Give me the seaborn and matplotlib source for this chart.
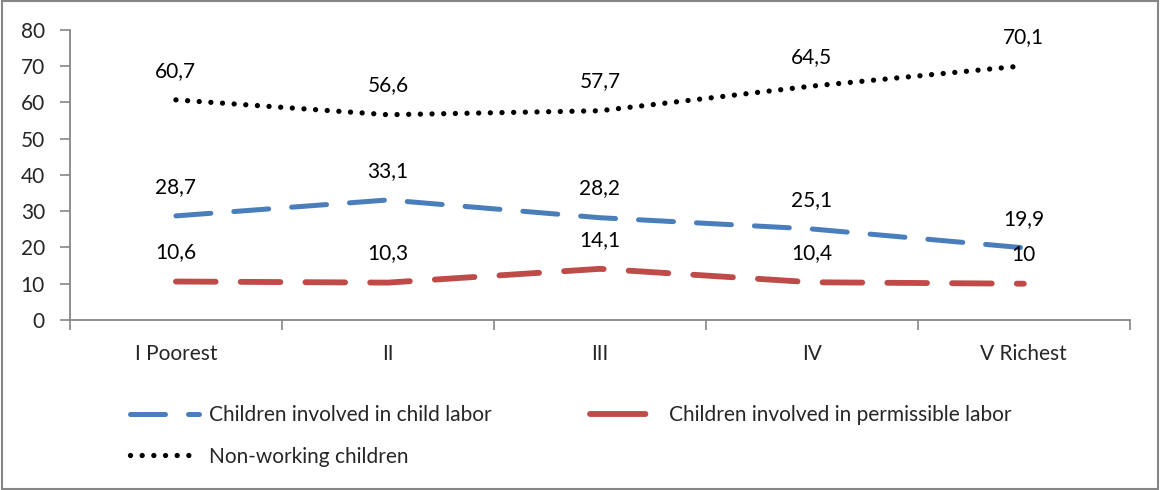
import pandas as pd
import seaborn as sns
import matplotlib.pyplot as plt
from matplotlib.patches import Rectangle

quintiles = ["I Poorest", "II", "III", "IV", "V Richest"]
child_labor = [28.7, 33.1, 28.2, 25.1, 19.9]
permissible_labor = [10.6, 10.3, 14.1, 10.4, 10.0]
non_working = [60.7, 56.6, 57.7, 64.5, 70.1]

series_names = ["Children involved in child labor",
                "Children involved in permissible labor",
                "Non-working children"]
series_values = [child_labor, permissible_labor, non_working]

rows = []
for name, vals in zip(series_names, series_values):
    for i, v in enumerate(vals):
        rows.append({"pos": i, "value": v, "series": name})
df = pd.DataFrame(rows)

sns.set_style("white")
plt.rcParams["font.family"] = ["Lato", "DejaVu Sans"]
plt.rcParams["lines.dash_capstyle"] = "round"
plt.rcParams["lines.solid_capstyle"] = "round"

palette = {series_names[0]: "#4A7EBB",
           series_names[1]: "#BE4B48",
           series_names[2]: "#000000"}
widths = {series_names[0]: 3.6, series_names[1]: 4.2, series_names[2]: 3.8}
dashes = {series_names[0]: (7, 4.6),
          series_names[1]: (6.8, 4.3),
          series_names[2]: (0.01, 2.2)}

fig = plt.figure(figsize=(11.6, 4.9), dpi=100)
ax = fig.add_axes([0.0603, 0.347, 0.9137, 0.592])

lines = {}
for name in series_names:
    sub = df[df["series"] == name]
    sns.lineplot(data=sub, x="pos", y="value", color=palette[name],
                 linewidth=widths[name], dashes=False, ax=ax, label=name,
                 linestyle=(0, dashes[name]))
    lines[name] = ax.get_lines()[-1]

for name in series_names:
    sub = df[df["series"] == name]
    for x, y in zip(sub["pos"], sub["value"]):
        txt = f"{y:g}".replace(".", ",")
        ax.annotate(txt, (x, y), xytext=(0, 21), textcoords="offset points",
                    ha="center", va="center", fontsize=15, color="black")

ax.set_xlim(-0.5, 4.5)
ax.set_ylim(0, 80)
ax.set_yticks(range(0, 81, 10))
ax.set_xticks([i + 0.5 for i in range(-1, 5)], minor=False)
ax.set_xticklabels([])
ax.set_xticks(range(5), minor=True)
ax.set_xticklabels(quintiles, minor=True)
ax.tick_params(axis="x", which="major", length=7, width=1.2, color="#868686",
               direction="out", bottom=True)
ax.tick_params(axis="x", which="minor", length=0, pad=17, labelsize=15)
ax.tick_params(axis="y", length=7, width=1.2, color="#868686",
               direction="out", left=True, labelsize=15, pad=11)
ax.set_xlabel("")
ax.set_ylabel("")
for s in ["top", "right"]:
    ax.spines[s].set_visible(False)
for s in ["left", "bottom"]:
    ax.spines[s].set_color("#868686")
    ax.spines[s].set_linewidth(1.3)

order = [series_names[0], series_names[2], series_names[1]]
leg = ax.legend([lines[n] for n in order], order,
                loc="upper left", bbox_to_anchor=(0.096, 0.212),
                bbox_transform=fig.transFigure, ncol=2, frameon=False,
                fontsize=15, handlelength=3.3, handletextpad=0.5,
                columnspacing=4.7, labelspacing=1.05)
# red legend key shows one long dash only
leg.get_lines()[2].set_linestyle((0, (9.5, 20)))

fig.patches.append(Rectangle((0.002, 0.003), 0.996, 0.994, transform=fig.transFigure,
                             fill=False, edgecolor="#868686", linewidth=1.5))

fig.savefig("out.png", dpi=100)
